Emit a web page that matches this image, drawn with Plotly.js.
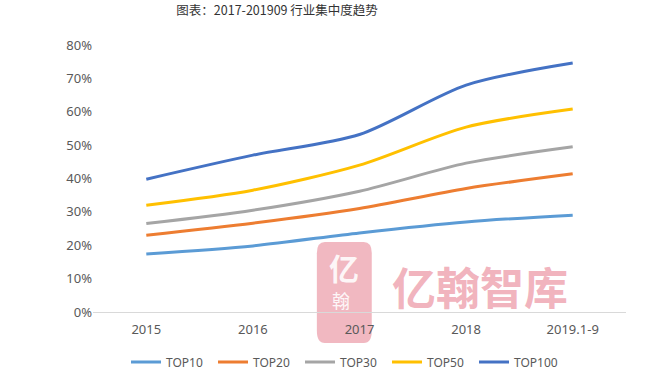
<!DOCTYPE html>
<html><head><meta charset="utf-8">
<script src="https://cdn.plot.ly/plotly-3.0.1.min.js"></script>
<style>html,body{margin:0;padding:0;background:#fff}#c{width:652px;height:385px}</style>
</head><body><div id="c"></div>
<script>
const categories = ["2015", "2016", "2017", "2018", "2019.1-9"];
const seriesNames = ["TOP10", "TOP20", "TOP30", "TOP50", "TOP100"];
const top10 = [0.174, 0.198, 0.237, 0.270, 0.290];
const top20 = [0.230, 0.266, 0.310, 0.370, 0.414];
const top30 = [0.265, 0.305, 0.362, 0.446, 0.495];
const top50 = [0.320, 0.365, 0.440, 0.554, 0.608];
const top100 = [0.398, 0.470, 0.532, 0.680, 0.746];
const yTicks = [0, 0.1, 0.2, 0.3, 0.4, 0.5, 0.6, 0.7, 0.8];
const colors = ["#5B9BD5", "#ED7D31", "#A5A5A5", "#FFC000", "#4472C4"];
const allSeries = [top10, top20, top30, top50, top100];

const traces = allSeries.map((vals, i) => ({
  x: categories, y: vals, name: seriesNames[i], type: 'scatter', mode: 'lines',
  line: {color: colors[i], width: 3, shape: 'spline', smoothing: 0.8}
}));

const font = "'Segoe UI', 'Noto Sans', 'Noto Sans CJK SC', sans-serif";
const cjk = "'Noto Sans CJK SC', sans-serif";
const layout = {
  width: 652, height: 385,
  margin: {l: 93, r: 26, t: 45, b: 73, autoexpand: false},
  paper_bgcolor: '#fff', plot_bgcolor: '#fff',
  font: {family: font, size: 13, color: '#595959'},
  title: {text: '图表：2017-201909 行业集中度趋势', xref: 'container', yref: 'container',
          x: 0.425, xanchor: 'center', y: 0.972, yanchor: 'middle',
          font: {family: cjk, size: 12.5, color: '#333'}},
  xaxis: {type: 'category', range: [-0.5, 4.5], showgrid: false, zeroline: false,
          showline: true, linecolor: '#d9d9d9', linewidth: 1, ticks: '',
          ticklabelstandoff: 5,
          tickfont: {size: 13, color: '#595959'}, fixedrange: true},
  yaxis: {range: [0, 0.8], tickvals: yTicks, tickformat: '.0%', showgrid: false,
          zeroline: false, showline: false, ticks: '', ticklen: 0,
          tickfont: {size: 13, color: '#595959'}, fixedrange: true},
  showlegend: true,
  legend: {orientation: 'h', x: 0.47, xanchor: 'center', y: -0.187, yanchor: 'middle',
           font: {size: 12, color: '#595959'}, entrywidth: 42, entrywidthmode: 'pixels',
           traceorder: 'normal'},
  shapes: [{type: 'path', xref: 'paper', yref: 'paper', layer: 'below',
            path: 'M 0.435 0.262 L 0.508 0.262 Q 0.523 0.262 0.523 0.22 L 0.523 -0.07 Q 0.523 -0.116 0.508 -0.116 L 0.435 -0.116 Q 0.42 -0.116 0.42 -0.07 L 0.42 0.22 Q 0.42 0.262 0.435 0.262 Z',
            fillcolor: 'rgba(236,160,172,0.75)', line: {width: 0}}],
  annotations: [
    {text: '<b>亿翰智库</b>', xref: 'paper', yref: 'paper', x: 0.726, y: 0.097,
     xanchor: 'center', yanchor: 'middle',
     showarrow: false, font: {family: cjk, size: 44, color: 'rgba(238,160,172,0.8)'}},
    {text: '<b>亿</b>', xref: 'paper', yref: 'paper', x: 0.47, y: 0.17,
     xanchor: 'center', yanchor: 'middle',
     showarrow: false, font: {family: cjk, size: 30, color: 'rgba(255,255,255,0.9)'}},
    {text: '翰', xref: 'paper', yref: 'paper', x: 0.465, y: 0.045,
     xanchor: 'center', yanchor: 'middle',
     showarrow: false, font: {family: cjk, size: 18, color: 'rgba(255,255,255,0.9)'}}
  ]
};
Plotly.newPlot('c', traces, layout, {displayModeBar: false, staticPlot: true});
</script></body></html>
